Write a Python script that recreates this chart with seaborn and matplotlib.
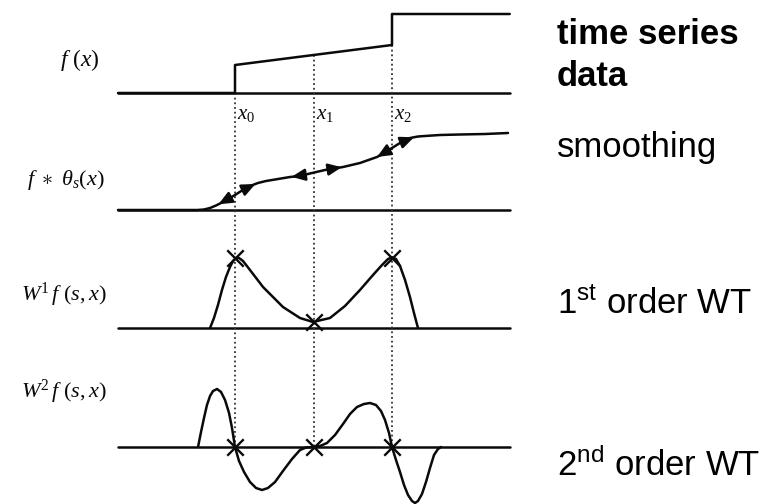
import numpy as np
import pandas as pd
import matplotlib
matplotlib.use("Agg")
import matplotlib.pyplot as plt
import seaborn as sns

# ---------------- data (time in units of the marked points, amplitude in arbitrary units) -------------
x_marks = [0.0, 1.0, 2.0]
x_labels = [r"$x_0$", r"$x_1$", r"$x_2$"]
axis_t = [-1.49, 3.50]

# f(x): piecewise signal with two jumps
f_t = [-1.49, 0.0, 0.0, 1.0, 2.0, 2.0, 3.50]
f_v = [0.0, 0.0, 2.8, 3.8, 4.8, 7.9, 7.9]

# f * theta_s(x): smoothed signal
smooth_t = [-1.49, -0.48, -0.395, -0.318, -0.242, -0.153, -0.076, 0.0, 0.089, 0.191, 0.293, 0.395,
            0.510, 0.701, 0.828, 0.981, 1.146, 1.376, 1.592, 1.809, 1.911, 2.0, 2.102, 2.229, 2.331,
            2.420, 2.611, 2.866, 3.185, 3.478]
smooth_v = [0.0, 0.0, 0.05, 0.2, 0.45, 0.8, 1.15, 1.5, 1.95, 2.4, 2.7, 2.9,
            3.05, 3.3, 3.4, 3.7, 4.0, 4.3, 4.7, 5.3, 5.75, 6.2, 6.7, 7.2, 7.35,
            7.4, 7.5, 7.55, 7.6, 7.7]
arrow_t = [-0.15, 0.20, 0.78, 1.30, 1.87, 2.22]
arrow_dir = [-1, 1, -1, 1, -1, 1]

# first-order wavelet transform
w1_t = [-0.318, -0.268, -0.217, -0.166, -0.115, -0.064, -0.025, 0.013, 0.051, 0.102, 0.191, 0.357,
        0.611, 0.828, 0.994, 1.210, 1.401, 1.592, 1.758, 1.873, 1.949, 2.0, 2.051, 2.102, 2.166,
        2.229, 2.280, 2.331]
w1_v = [0.0, 1.0, 2.3, 3.8, 5.1, 6.1, 6.7, 7.0, 7.0, 6.7, 5.8, 4.1,
        2.1, 1.0, 0.6, 1.0, 2.2, 3.8, 5.3, 6.3, 6.9, 7.05, 6.9, 6.2, 4.8,
        3.1, 1.5, 0.0]
w1_mark_v = [7.0, 0.6, 7.0]

# second-order wavelet transform
w2_t = [-0.471, -0.433, -0.395, -0.357, -0.318, -0.280, -0.229, -0.178, -0.127, -0.076, -0.038, 0.0,
        0.051, 0.115, 0.191, 0.268, 0.344, 0.420, 0.510, 0.611, 0.726, 0.828, 0.904, 1.0,
        1.083, 1.172, 1.274, 1.376, 1.465, 1.554, 1.643, 1.720, 1.796, 1.860, 1.911, 1.962, 2.0,
        2.051, 2.102, 2.153, 2.204, 2.255, 2.293, 2.331, 2.382, 2.433, 2.484, 2.535, 2.586, 2.624]
w2_v = [0.0, 1.5, 2.9, 4.2, 5.1, 5.6, 5.8, 5.5, 4.7, 3.4, 1.9, 0.0,
        -1.4, -2.5, -3.5, -4.1, -4.3, -4.1, -3.5, -2.4, -1.2, -0.3, -0.05, 0.0,
        0.1, 0.4, 1.2, 2.3, 3.3, 4.0, 4.3, 4.4, 4.2, 3.6, 2.7, 1.4, 0.0,
        -1.3, -2.5, -3.8, -4.8, -5.4, -5.6, -5.4, -4.7, -3.5, -2.1, -0.8, -0.2, 0.0]
w2_mark_v = [0.0, 0.0, 0.0]

row_labels = [r"$f\ (x)$", r"$f\ \ast\ \theta_s(x)$", r"$W^1\,f\ (s,x)$", r"$W^2\,f\ (s,x)$"]
side_labels = [r"$\mathsf{1^{st}}$ order WT", r"$\mathsf{2^{nd}}$ order WT"]

# ---------------- style ----------------
sns.set_style("white")
plt.rcParams["font.family"] = ["Liberation Sans", "DejaVu Sans"]
plt.rcParams["mathtext.fontset"] = "custom"
plt.rcParams["mathtext.rm"] = "Liberation Serif"
plt.rcParams["mathtext.it"] = "Liberation Serif:italic"
plt.rcParams["mathtext.sf"] = "Liberation Sans"
plt.rcParams["mathtext.bf"] = "Liberation Serif:bold"

W, H = 775, 504
fig = plt.figure(figsize=(W / 100, H / 100), dpi=100)
ax = fig.add_axes([0, 0, 1, 1])
PX = 78.5  # pixels per time unit
ax.set_xlim(-235 / PX, (W - 235) / PX)
ax.set_ylim(-H / 10, 0)
ax.set_axis_off()

bases = [-9.3, -21.0, -32.8, -44.7]
ink = "#0a0a0a"
lw = 1.8


def draw(t, v, base, **kw):
    df = pd.DataFrame({"t": t, "y": np.asarray(v, float) + base})
    sns.lineplot(data=df, x="t", y="y", sort=False, estimator=None, ax=ax,
                 color=kw.pop("color", ink), lw=kw.pop("lw", lw), **kw)


# baselines
for b in bases:
    draw(axis_t, [0, 0], b)

# dotted drop lines
for xm in x_marks:
    hits = [v for t, v in zip(f_t, f_v) if t == xm]
    top = min(hits) if hits else float(np.interp(xm, f_t, f_v))
    draw([xm, xm], [top, bases[3] - bases[0]], bases[0], lw=1.3,
         linestyle=(0, (1, 1.6)), color="#333333")

# curves
draw(f_t, f_v, bases[0])
draw(smooth_t, smooth_v, bases[1])
draw(w1_t, w1_v, bases[2])
draw(w2_t, w2_v, bases[3])

# arrowheads on smoothed curve
for ta, d in zip(arrow_t, arrow_dir):
    t0, t1 = ta - d * 0.10, ta + d * 0.06
    y0 = np.interp(t0, smooth_t, smooth_v) + bases[1]
    y1 = np.interp(t1, smooth_t, smooth_v) + bases[1]
    ax.annotate("", xy=(t1, y1), xytext=(t0, y0),
                arrowprops=dict(arrowstyle="-|>,head_length=0.8,head_width=0.35",
                                color=ink, lw=1.8, shrinkA=0, shrinkB=0,
                                mutation_scale=10))

# x markers
sns.scatterplot(x=x_marks, y=np.asarray(w1_mark_v) + bases[2], marker="x", s=140,
                color=ink, linewidth=1.7, ax=ax, zorder=5)
sns.scatterplot(x=x_marks, y=np.asarray(w2_mark_v) + bases[3], marker="x", s=140,
                color=ink, linewidth=1.7, ax=ax, zorder=5)

# tick labels x0, x1, x2
for xm, lab in zip(x_marks, x_labels):
    ax.text(xm + 2 / PX, bases[0] - 2.1, lab, fontsize=15, ha="left", va="center", color=ink)


def ftext(px, py, s, **kw):
    fig.text(px / W, 1 - py / H, s, **kw)


# row labels (left)
for (cx, cy, fs), lab in zip([(80, 60, 17), (66, 180, 16), (64, 295, 16), (64, 392, 16)], row_labels):
    ftext(cx, cy, lab, fontsize=fs, ha="center", va="center", color=ink)

# side labels (right)
big = 25
ftext(557, 44, "time series", fontsize=big, fontweight="bold", ha="left", va="baseline", color="black")
ftext(557, 86, "data", fontsize=big, fontweight="bold", ha="left", va="baseline", color="black")
ftext(557, 157, "smoothing", fontsize=big, ha="left", va="baseline", color="black")
ftext(557, 314, side_labels[0], fontsize=big, ha="left", va="baseline", color="black")
ftext(557, 476, side_labels[1], fontsize=big, ha="left", va="baseline", color="black")

fig.savefig("out.png", dpi=100)
